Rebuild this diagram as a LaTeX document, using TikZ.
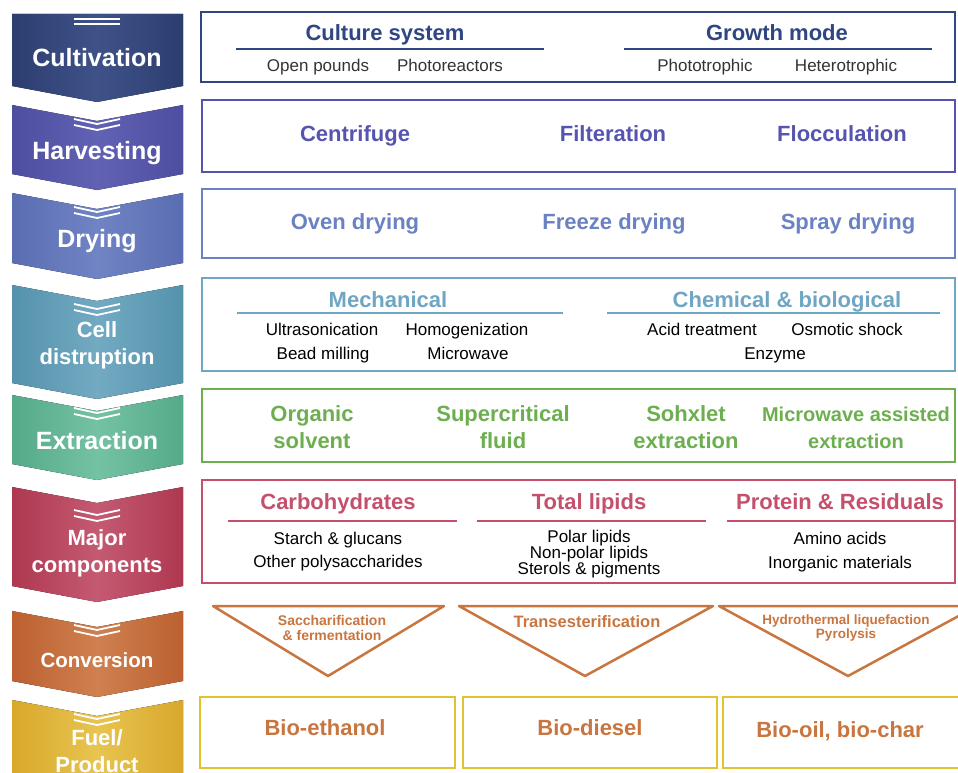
\documentclass[tikz,border=0pt]{standalone}
\usepackage{fontspec}
\setmainfont{Liberation Sans}
\begin{document}
\begin{tikzpicture}[x=1pt,y=-1pt,
  chevshape/.style 2 args={left color=#1, right color=#1, middle color=#2, draw=none},
  chevlabel/.style={text=white, font=\bfseries\fontsize{25}{27}\selectfont, align=center, inner sep=0pt, text height=18pt, text depth=0pt},
  chevlabelsm/.style={text=white, font=\bfseries\fontsize{22}{27}\selectfont, align=center, inner sep=0pt},
  markline/.style={draw=white, line width=1.8pt},
  stagebox/.style={draw=#1, line width=2pt},
  head/.style={font=\bfseries\fontsize{22}{27}\selectfont, text=#1, inner sep=0pt, align=center, text height=15.8pt, text depth=0pt},
  headml/.style={font=\bfseries\fontsize{22}{27}\selectfont, text=#1, inner sep=0pt, align=center},
  item/.style={font=\fontsize{17}{19}\selectfont, text=#1, inner sep=0pt, align=center, text height=12.2pt, text depth=0pt},
  rule/.style={draw=#1, line width=2pt},
  tri/.style={draw=convc, line width=2.5pt, line join=round},
  convtext/.style={font=\bfseries\fontsize{#1}{#1}\selectfont, text=convc, inner sep=0pt, align=center},
]
\definecolor{cultA}{HTML}{2C3D70}\definecolor{cultB}{HTML}{3F5288}
\definecolor{harvA}{HTML}{4E4EA0}\definecolor{harvB}{HTML}{6262B4}
\definecolor{dryA}{HTML}{5A6DB2}\definecolor{dryB}{HTML}{7084C4}
\definecolor{cellA}{HTML}{5592AC}\definecolor{cellB}{HTML}{72AAC2}
\definecolor{extA}{HTML}{55AA88}\definecolor{extB}{HTML}{74C2A4}
\definecolor{majA}{HTML}{AE3850}\definecolor{majB}{HTML}{C45A72}
\definecolor{convA}{HTML}{BC6030}\definecolor{convB}{HTML}{D08050}
\definecolor{fuelA}{HTML}{D8A82C}\definecolor{fuelB}{HTML}{E8C450}
\definecolor{cultc}{HTML}{2F4682}
\definecolor{harvc}{HTML}{5555B0}
\definecolor{dryc}{HTML}{6A82C2}
\definecolor{cellc}{HTML}{6EA6C4}
\definecolor{extc}{HTML}{6DAF50}
\definecolor{majc}{HTML}{C4506C}
\definecolor{convc}{HTML}{C8753F}
\definecolor{fuelc}{HTML}{E3C232}
\definecolor{greytext}{HTML}{333333}

\clip (0,0) rectangle (958,773);

% ---------- stage chevrons ----------
\fill[chevshape={cultA}{cultB}] (12,14) -- (183,14) -- (183,86) -- (97,102) -- (12,86) -- cycle;
\fill[chevshape={harvA}{harvB}] (12,105) -- (97,121) -- (183,105) -- (183,174) -- (97,190) -- (12,174) -- cycle;
\fill[chevshape={dryA}{dryB}] (12,193) -- (97,209) -- (183,193) -- (183,263) -- (97,279) -- (12,263) -- cycle;
\fill[chevshape={cellA}{cellB}] (12,285) -- (97,301) -- (183,285) -- (183,383) -- (97,399) -- (12,383) -- cycle;
\fill[chevshape={extA}{extB}] (12,395) -- (97,411) -- (183,395) -- (183,464) -- (97,480) -- (12,464) -- cycle;
\fill[chevshape={majA}{majB}] (12,487) -- (97,503) -- (183,487) -- (183,586) -- (97,602) -- (12,586) -- cycle;
\fill[chevshape={convA}{convB}] (12,611) -- (97,627) -- (183,611) -- (183,681) -- (97,697) -- (12,681) -- cycle;
\fill[chevshape={fuelA}{fuelB}] (12,700) -- (97,716) -- (183,700) -- (183,800) -- (97,816) -- (12,800) -- cycle;

% double marks on the chevrons
\draw[markline] (74,19) -- (120,19);
\draw[markline] (74,24) -- (120,24);
\foreach \y in {119,207,304,408,510,625,714}{
  \draw[markline] (74,\y) -- (97,\y+5) -- (120,\y);
  \draw[markline] (74,\y+6) -- (97,\y+11) -- (120,\y+6);
}

\node[chevlabel]   (sCult) at (97,58)  {Cultivation};
\node[chevlabel]   (sHarv) at (97,150) {Harvesting};
\node[chevlabel]   (sDry)  at (97,238) {Drying};
\node[chevlabelsm] (sCell) at (97,345) {Cell\\distruption};
\node[chevlabel]   (sExt)  at (97,440) {Extraction};
\node[chevlabelsm] (sMaj)  at (97,553) {Major\\components};
\node[chevlabel, font=\bfseries\fontsize{20.5}{24}\selectfont, text height=14.7pt] (sConv) at (97,660) {Conversion};
\node[chevlabelsm] (sFuel) at (97,751) {Fuel/\\Product};

% ---------- Cultivation ----------
\draw[stagebox=cultc, line width=2.5pt] (201,12) rectangle (955,82);
\node[head=cultc] (cs) at (385,33) {Culture system};
\draw[rule=cultc] (236,49) -- (544,49);
\node[item=greytext] (op) at (318,65) {Open pounds};
\node[item=greytext] (pr) at (450,65) {Photoreactors};
\node[head=cultc] (gm) at (777,33) {Growth mode};
\draw[rule=cultc] (624,49) -- (932,49);
\node[item=greytext] (pt) at (705,65) {Phototrophic};
\node[item=greytext] (ht) at (846,65) {Heterotrophic};

% ---------- Harvesting ----------
\draw[stagebox=harvc] (202,100) rectangle (955,172);
\node[head=harvc] (h1) at (355,134) {Centrifuge};
\node[head=harvc] (h2) at (613,134) {Filteration};
\node[head=harvc] (h3) at (842,134) {Flocculation};

% ---------- Drying ----------
\draw[stagebox=dryc] (202,189) rectangle (955,258);
\node[head=dryc] (d1) at (355,222) {Oven drying};
\node[head=dryc] (d2) at (614,222) {Freeze drying};
\node[head=dryc] (d3) at (848,222) {Spray drying};

% ---------- Cell disruption ----------
\draw[stagebox=cellc] (202,278) rectangle (955,371);
\node[head=cellc] (mech) at (388,300) {Mechanical};
\draw[rule=cellc] (237,313) -- (563,313);
\node[item=black] (c1) at (322,329) {Ultrasonication};
\node[item=black] (c2) at (467,329) {Homogenization};
\node[item=black] (c3) at (323,353) {Bead milling};
\node[item=black] (c4) at (468,353) {Microwave};
\node[head=cellc] (chem) at (787,300) {Chemical \& biological};
\draw[rule=cellc] (607,313) -- (940,313);
\node[item=black] (c5) at (702,329) {Acid treatment};
\node[item=black] (c6) at (847,329) {Osmotic shock};
\node[item=black] (c7) at (775,353) {Enzyme};

% ---------- Extraction ----------
\draw[stagebox=extc] (202,389) rectangle (955,462);
\node[headml=extc] (e1) at (312,427) {Organic\\solvent};
\node[headml=extc] (e2) at (503,427) {Supercritical\\fluid};
\node[headml=extc] (e3) at (686,427) {Sohxlet\\extraction};
\node[headml=extc, font=\bfseries\fontsize{20}{27}\selectfont] (e4) at (856,428) {Microwave assisted\\extraction};

% ---------- Major components ----------
\draw[stagebox=majc] (202,480) rectangle (955,583);
\node[head=majc] (carb) at (338,502) {Carbohydrates};
\draw[rule=majc] (228,521) -- (457,521);
\node[item=black] (m1) at (338,538) {Starch \& glucans};
\node[item=black] (m2) at (338,561) {Other polysaccharides};
\node[head=majc] (lip) at (589,502) {Total lipids};
\draw[rule=majc] (477,521) -- (706,521);
\node[font=\fontsize{17}{16}\selectfont, inner sep=0pt, align=center] (m3) at (589,554) {Polar lipids\\Non-polar lipids\\Sterols \& pigments};
\node[head=majc] (prot) at (840,502) {Protein \& Residuals};
\draw[rule=majc] (727,521) -- (955,521);
\node[item=black] (m4) at (840,538) {Amino acids};
\node[item=black] (m5) at (840,562) {Inorganic materials};

% ---------- Conversion ----------
\draw[tri] (213,606) -- (444,606) -- (328,676) -- cycle;
\draw[tri] (459,606) -- (713,606) -- (585,676) -- cycle;
\draw[tri] (719,606) -- (977,606) -- (848,676) -- cycle;
\node[convtext=14] (v1) at (332,628) {Saccharification\\[1pt]\& fermentation};
\node[convtext=16.5] (v2) at (587,622) {Transesterification};
\node[convtext=13.5] (v3) at (846,628) {Hydrothermal liquefaction\\[1pt]Pyrolysis};

% ---------- Fuel / Product ----------
\draw[stagebox=fuelc] (200,697) rectangle (455,768);
\draw[stagebox=fuelc] (463,697) rectangle (717,768);
\draw[stagebox=fuelc] (723,697) rectangle (975,768);
\node[head=convc] (f1) at (325,728) {Bio-ethanol};
\node[head=convc] (f2) at (590,728) {Bio-diesel};
\node[head=convc] (f3) at (840,730) {Bio-oil, bio-char};
\end{tikzpicture}
\end{document}
